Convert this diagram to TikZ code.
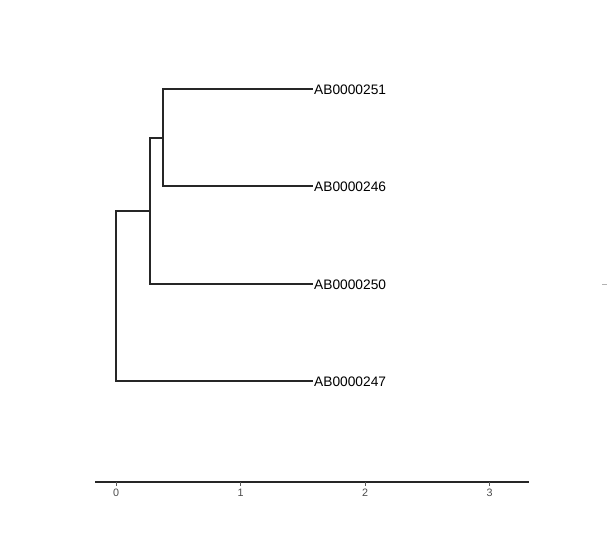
\documentclass[tikz,border=0pt]{standalone}
\usepackage{fontspec}
\setmainfont{Liberation Sans}
\begin{document}
\begin{tikzpicture}[x=1bp,y=-1bp,
  branch/.style={line width=1.1bp, black!85, line join=miter},
  tiplabel/.style={anchor=west, inner sep=0pt, xshift=1bp, yshift=-1.2bp, font=\fontsize{13.8}{14}\selectfont},
  axisline/.style={line width=1.3bp, black!85},
  ticklab/.style={anchor=north, inner sep=0pt, text=black!70, font=\fontsize{10.8}{12}\selectfont}]
\useasboundingbox (0,0) rectangle (612,550);
% tree nodes
\coordinate (a) at (116,296);
\coordinate (b) at (150,211);
\coordinate (c) at (163,138);
\coordinate (t251) at (313,89);
\coordinate (t246) at (313,186);
\coordinate (t250) at (313,284);
\coordinate (t247) at (313,381);
\draw[branch] (b) -| (a) |- (t247);
\draw[branch] (c) -| (b) |- (t250);
\draw[branch] (t251) -| (c) |- (t246);
\node[tiplabel] (l251) at (t251) {AB0000251};
\node[tiplabel] (l246) at (t246) {AB0000246};
\node[tiplabel] (l250) at (t250) {AB0000250};
\node[tiplabel] (l247) at (t247) {AB0000247};
% axis
\coordinate (ax0) at (95,482);
\coordinate (ax1) at (529,482);
\draw[axisline] (ax0) -- (ax1);
\foreach \v/\px in {0/116,1/240.5,2/365,3/489.5}{
  \coordinate (tk\v) at (\px,482);
  \draw[line width=0.8bp, black!65] (tk\v) -- ++(0,3.5);
  \node[ticklab] (tl\v) at (\px,488.5) {\v};
}
% small legend mark
\coordinate (m0) at (602,284.5);
\coordinate (m1) at (607,284.5);
\draw[line width=0.6bp, black!30] (m0) -- (m1);
\end{tikzpicture}
\end{document}
